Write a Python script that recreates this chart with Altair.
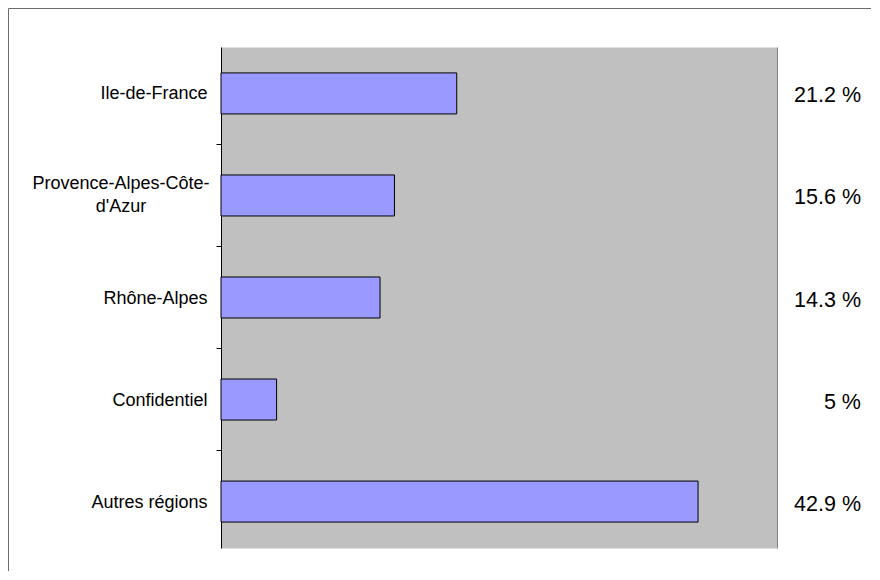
import json
import altair as alt
import pandas as pd

# ---- data ----
categories = ["Ile-de-France", "Provence-Alpes-Côte-d'Azur", "Rhône-Alpes",
              "Confidentiel", "Autres régions"]
values = [21.2, 15.6, 14.3, 5.0, 42.9]
value_labels = ["21.2 %", "15.6 %", "14.3 %", "5 %", "42.9 %"]
wrapped_labels = {"Provence-Alpes-Côte-d'Azur": "Provence-Alpes-Côte-\nd'Azur"}
x_domain = [0, 50]

df = pd.DataFrame({"region": categories, "share": values, "label": value_labels})
wrap_df = pd.DataFrame({"region": list(wrapped_labels.keys()),
                        "text": list(wrapped_labels.values())})
frame_df = pd.DataFrame({"k": [0]})

FONT = "Liberation Sans"

# axis shows single-line labels; wrapped ones are drawn centred by a text layer
label_expr = "datum.value"
for k in wrapped_labels:
    label_expr = f"datum.value === {json.dumps(k, ensure_ascii=False)} ? '' : " + label_expr

y_scale = alt.Scale(domain=categories, paddingInner=0.598, paddingOuter=0.254)

left_axis = alt.Axis(
    title=None, grid=False,
    labelFont=FONT, labelFontSize=18, labelColor="black",
    labelPadding=9, labelLimit=400, labelExpr=label_expr, labelOffset=1,
    tickSize=5, tickColor="black", tickWidth=1, bandPosition=-0.744,
    tickOpacity={"condition": {"test": f"datum.value === {json.dumps(categories[0], ensure_ascii=False)}",
                               "value": 0}, "value": 1},
    domainColor="black", domainWidth=1,
)

right_axis = alt.Axis(
    orient="right", title=None, grid=False, labels=False, ticks=False,
    domainColor="#808080", domainWidth=1,
)

frame_top = alt.Chart(frame_df).mark_rule(color="#6b6b6b", strokeWidth=1).encode(
    x=alt.value(-212.5), x2=alt.value(650), y=alt.value(-38.5)
)
frame_left = alt.Chart(frame_df).mark_rule(color="#6b6b6b", strokeWidth=1).encode(
    x=alt.value(-212.5), y=alt.value(-38.5), y2=alt.value(524)
)

bars = alt.Chart(df).mark_bar(fill="#9999FF", stroke="black", strokeWidth=1).encode(
    y=alt.Y("region:N", sort=categories, scale=y_scale, axis=left_axis),
    x=alt.X("share:Q", scale=alt.Scale(domain=x_domain, nice=False, zero=True), axis=None),
)

wrapped = alt.Chart(wrap_df).mark_text(
    align="center", baseline="middle", font=FONT, fontSize=18, color="black",
    lineBreak="\n", lineHeight=23, dy=-11
).encode(
    y=alt.Y("region:N", sort=categories, scale=y_scale, axis=None),
    x=alt.value(-100),
    text="text:N",
)

texts = alt.Chart(df).mark_text(
    align="right", baseline="middle", font=FONT, fontSize=21.5, color="black", dy=3
).encode(
    y=alt.Y("region:N", sort=categories, scale=y_scale, axis=right_axis),
    x=alt.value(640),
    text="label:N",
)

chart = alt.layer(frame_top, frame_left, bars, wrapped, texts).resolve_axis(
    y="independent"
).properties(
    width=556, height=501, padding=0, background="white"
).configure_view(fill="#C0C0C0", stroke="transparent")

chart.save("out.html", embed_options={"renderer": "svg", "actions": False})
